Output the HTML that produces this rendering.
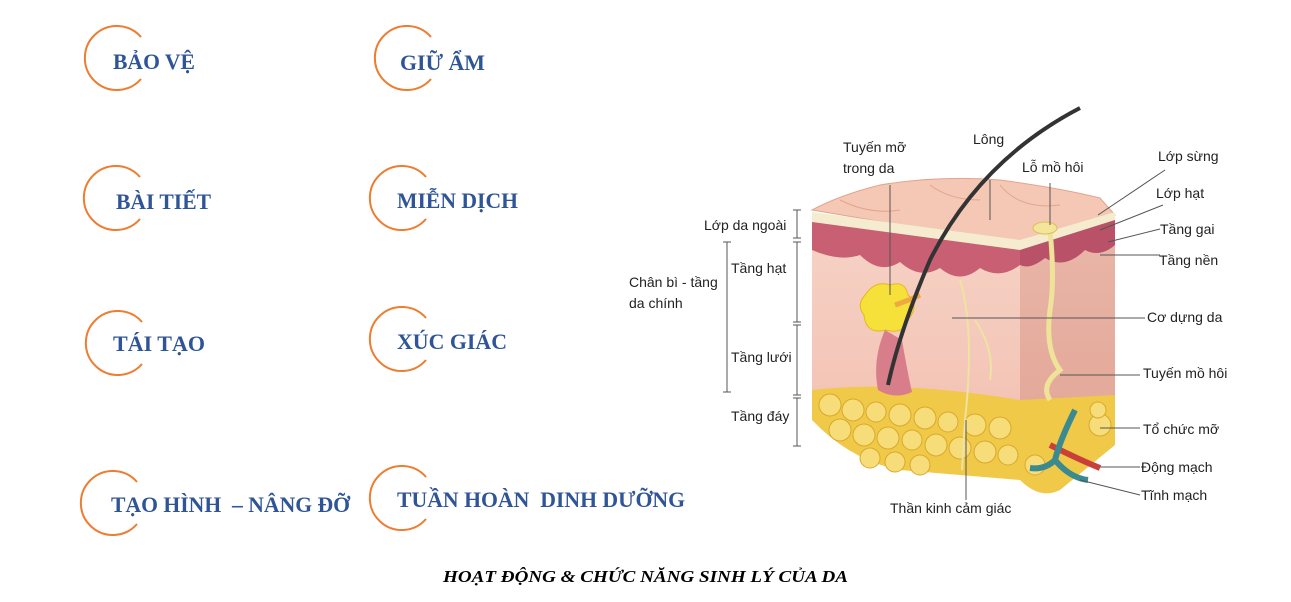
<!DOCTYPE html>
<html><head><meta charset="utf-8"><style>
html,body{margin:0;padding:0;background:#fff;width:1291px;height:602px;overflow:hidden}
.t{font-family:"Liberation Serif",serif;font-weight:bold;font-size:22px;fill:#2f5597;white-space:pre}
.l{font-family:"Liberation Sans","DejaVu Sans",sans-serif;font-size:14px;fill:#222}
</style></head><body>
<svg width="1291" height="602" viewBox="0 0 1291 602" xmlns="http://www.w3.org/2000/svg">
<defs>
<g id="arc"><path d="M25,-21 A32,32 0 1 0 25,21" fill="none" stroke="#ed7d31" stroke-width="2"/></g>
<linearGradient id="derm" x1="0" y1="0" x2="0" y2="1">
<stop offset="0" stop-color="#f6d3c6"/><stop offset="0.7" stop-color="#f3c4b6"/><stop offset="1" stop-color="#e0705c"/></linearGradient>
<linearGradient id="dermR" x1="0" y1="0" x2="0" y2="1">
<stop offset="0" stop-color="#e9b7a9"/><stop offset="0.7" stop-color="#e4a99a"/><stop offset="1" stop-color="#d35a48"/></linearGradient>
</defs>
<use href="#arc" x="116" y="58"/><text class="t" x="113" y="69" textLength="82" lengthAdjust="spacingAndGlyphs">BẢO VỆ</text>
<use href="#arc" x="406" y="58"/><text class="t" x="400" y="70" textLength="85" lengthAdjust="spacingAndGlyphs">GIỮ ẨM</text>
<use href="#arc" x="115" y="198"/><text class="t" x="116" y="209" textLength="95" lengthAdjust="spacingAndGlyphs">BÀI TIẾT</text>
<use href="#arc" x="401" y="198"/><text class="t" x="397" y="208" textLength="121" lengthAdjust="spacingAndGlyphs">MIỄN DỊCH</text>
<use href="#arc" x="117" y="343"/><text class="t" x="113" y="351" textLength="92" lengthAdjust="spacingAndGlyphs">TÁI TẠO</text>
<use href="#arc" x="401" y="339"/><text class="t" x="397" y="349" textLength="110" lengthAdjust="spacingAndGlyphs">XÚC GIÁC</text>
<use href="#arc" x="112" y="503"/><text class="t" x="111" y="512" textLength="239" lengthAdjust="spacingAndGlyphs">TẠO HÌNH  – NÂNG ĐỠ</text>
<use href="#arc" x="401" y="498"/><text class="t" x="397" y="507" textLength="288" lengthAdjust="spacingAndGlyphs">TUẦN HOÀN  DINH DƯỠNG</text>
<text x="443" y="582" textLength="405" lengthAdjust="spacingAndGlyphs" font-family="Liberation Serif,serif" font-weight="bold" font-style="italic" font-size="17" fill="#000">HOẠT ĐỘNG &amp; CHỨC NĂNG SINH LÝ CỦA DA</text>

<!-- skin block -->
<polygon points="812,220 1020,245 1020,480 812,420" fill="url(#derm)"/>
<polygon points="1020,245 1115,215 1115,445 1020,480" fill="url(#dermR)"/>
<path d="M812,390 Q900,380 1020,400 L1115,395 L1115,445 L1060,490 Q1040,500 1020,480 L900,470 Q850,460 812,420 Z" fill="#f0c948"/>
<g fill="#f7dc7a" stroke="#d9a92a" stroke-width="1">
<circle cx="830" cy="405" r="11"/><circle cx="853" cy="410" r="11"/><circle cx="876" cy="412" r="10"/><circle cx="900" cy="415" r="11"/><circle cx="925" cy="418" r="11"/><circle cx="948" cy="422" r="10"/><circle cx="975" cy="425" r="11"/><circle cx="1000" cy="428" r="11"/>
<circle cx="840" cy="430" r="11"/><circle cx="864" cy="435" r="11"/><circle cx="888" cy="438" r="11"/><circle cx="912" cy="440" r="10"/><circle cx="936" cy="445" r="11"/><circle cx="960" cy="448" r="11"/><circle cx="985" cy="452" r="11"/><circle cx="1008" cy="455" r="10"/>
<circle cx="870" cy="458" r="10"/><circle cx="895" cy="462" r="10"/><circle cx="920" cy="465" r="10"/><circle cx="1035" cy="465" r="10"/><circle cx="1100" cy="425" r="11"/><circle cx="1098" cy="410" r="8"/>
</g>
<!-- top face -->
<path d="M812,210 Q840,195 880,185 Q940,175 1000,180 Q1060,188 1100,198 L1115,215 L1020,245 Z" fill="#f4c8b4" stroke="#e3a48e"/>
<path d="M840,200 Q870,215 900,210 M930,185 Q950,200 980,200 M1000,185 Q1020,210 1060,205" stroke="#e3a48e" fill="none"/>
<polygon points="812,212 1020,240 1115,212 1115,220 1020,250 812,222" fill="#f5ecd0"/>
<path d="M812,222 L1020,250 L1020,265 Q1000,280 980,268 Q960,285 940,268 Q920,280 900,262 Q880,275 860,255 Q840,262 812,250 Z" fill="#c85f73"/>
<path d="M1020,250 L1115,220 L1115,245 Q1100,258 1085,250 Q1065,270 1045,258 Q1030,270 1020,265 Z" fill="#b95268"/>
<!-- sebaceous gland -->
<path d="M865,295 q10,-15 25,-10 q15,-5 18,10 q12,10 0,25 q-5,15 -22,10 q-20,5 -22,-15 q-8,-10 1,-20z" fill="#f6e03a" stroke="#e3b820"/>
<path d="M895,305 q15,-5 25,-10" stroke="#f0a842" stroke-width="5" fill="none"/>
<!-- hair follicle -->
<path d="M878,390 Q872,360 885,330 L902,340 Q907,370 912,392 Q895,400 878,390z" fill="#d87e8a"/>
<path d="M1080,108 Q980,160 930,260 Q900,330 888,385" stroke="#333" stroke-width="4" fill="none"/>
<!-- sweat duct -->
<path d="M1050,230 Q1055,280 1050,310 Q1045,350 1060,370 Q1040,385 1050,400" stroke="#efe39a" stroke-width="5" fill="none"/>
<ellipse cx="1045" cy="228" rx="12" ry="6" fill="#f3e59a" stroke="#d9c25a"/>
<!-- nerves -->
<path d="M960,280 Q975,330 965,420 L962,470 M975,320 Q995,350 990,380" stroke="#eee3a0" stroke-width="2" fill="none"/>
<!-- vessels -->
<path d="M1050,445 Q1080,460 1100,468" stroke="#c9403a" stroke-width="6" fill="none"/>
<path d="M1075,410 Q1060,440 1055,460 Q1045,470 1030,468 M1055,460 Q1070,478 1088,480" stroke="#3b8a8f" stroke-width="6" fill="none"/>

<!-- brackets -->
<g stroke="#555" fill="none">
<path d="M797,210 v28 M793,210 h8 M793,238 h8 M797,242 v80 M793,242 h8 M793,322 h8 M797,325 v70 M793,325 h8 M793,395 h8 M797,398 v48 M793,398 h8 M793,446 h8 M727,242 v150 M723,242 h8 M723,392 h8"/>
<path d="M1098,215 L1165,170 M1100,230 L1163,205 M1108,242 L1160,229 M1100,255 H1160 M952,318 H1145 M1060,375 H1140 M1100,428 H1140 M1100,467 H1140 M1080,480 L1140,495 M966,420 V500 M990,180 V220 M1050,183 V225 M890,185 V295"/>
</g>
<g class="l">
<text x="843" y="152">Tuyến mỡ</text><text x="843" y="173">trong da</text>
<text x="973" y="144">Lông</text>
<text x="1022" y="172">Lỗ mồ hôi</text>
<text x="1158" y="161">Lớp sừng</text>
<text x="1156" y="198">Lớp hạt</text>
<text x="1160" y="234">Tầng gai</text>
<text x="1159" y="265">Tầng nền</text>
<text x="704" y="230">Lớp da ngoài</text>
<text x="731" y="273">Tầng hạt</text>
<text x="629" y="287">Chân bì - tầng</text><text x="629" y="308">da chính</text>
<text x="731" y="362">Tầng lưới</text>
<text x="731" y="421">Tầng đáy</text>
<text x="1147" y="322">Cơ dựng da</text>
<text x="1143" y="378">Tuyến mồ hôi</text>
<text x="1143" y="434">Tổ chức mỡ</text>
<text x="1141" y="472">Động mạch</text>
<text x="1141" y="500">Tĩnh mạch</text>
<text x="890" y="513">Thần kinh cảm giác</text>
</g>
</svg>
</body></html>
